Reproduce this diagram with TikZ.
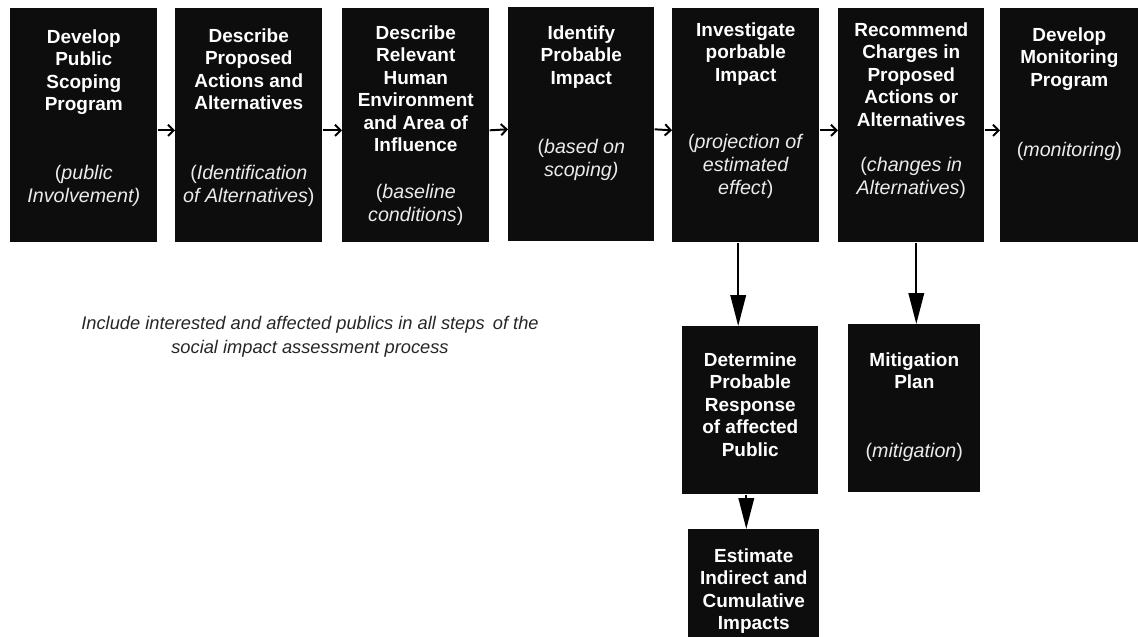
\documentclass[tikz,border=0pt]{standalone}
\usepackage{fontspec}
\setmainfont{Liberation Sans}
\usepackage{tikz}
\usetikzlibrary{positioning,calc,arrows.meta}

\begin{document}
\begin{tikzpicture}[x=0.025cm,y=-0.025cm,
	stepbox/.style={fill=black!95, inner sep=0pt, anchor=north west, minimum width=3.675cm, minimum height=5.85cm},
	boxtitle/.style={text=white, font=\bfseries\fontsize{13.5}{16}\selectfont, align=center, anchor=north, inner sep=0pt},
	boxnote/.style={text=white!92!black, font=\fontsize{14}{16.4}\selectfont, align=center, anchor=north, inner sep=0pt},
	harrow/.style={line width=1.4pt, -{Straight Barb[length=4pt,width=8pt]}},
	varrow/.style={line width=1.4pt, -{Triangle[length=22pt,width=11pt]}}]
	\useasboundingbox (0,0) rectangle (1138,637);
	
	% hàng các bước chính
	\foreach \n/\x in {b1/10,b2/175,b3/342,b5/672}
		\node[stepbox] (\n) at (\x,8) {};
	\node[stepbox, minimum width=3.65cm] (b4) at (508,7) {};
	\node[stepbox, minimum width=3.65cm] (b6) at (838,8) {};
	\node[stepbox, minimum width=3.45cm] (b7) at (1000,8) {};
	
	% các bước phía dưới
	\node[stepbox, minimum width=3.4cm, minimum height=4.2cm] (resp) at (682,326) {};
	\node[stepbox, minimum width=3.3cm, minimum height=4.2cm] (mitig) at (848,324) {};
	\node[stepbox, minimum width=3.275cm, minimum height=2.7cm] (est) at (688,529) {};
	
	% tiêu đề
	\node[boxtitle] (t1) at (b1.north |- 0,29) {Develop\\Public\\Scoping\\Program};
	\node[boxtitle] (t2) at (b2.north |- 0,28) {Describe\\Proposed\\Actions and\\Alternatives};
	\node[boxtitle] (t3) at (b3.north |- 0,25) {Describe\\Relevant\\Human\\Environment\\and Area of\\Influence};
	\node[boxtitle] (t4) at (b4.north |- 0,25) {Identify\\Probable\\Impact};
	\node[boxtitle] (t5) at (b5.north |- 0,22) {Investigate\\porbable\\Impact};
	\node[boxtitle] (t6) at (b6.north |- 0,22) {Recommend\\Charges in\\Proposed\\Actions or\\Alternatives};
	\node[boxtitle] (t7) at (b7.north |- 0,27) {Develop\\Monitoring\\Program};
	\node[boxtitle] (t8) at (resp.north |- 0,352) {Determine\\Probable\\Response\\of affected\\Public};
	\node[boxtitle] (t9) at (mitig.north |- 0,352) {Mitigation\\Plan};
	\node[boxtitle] (t10) at (est.north |- 0,548) {Estimate\\Indirect and\\Cumulative\\Impacts};
	
	% chú thích trong ngoặc
	\node[boxnote] (s1) at (b1.north |- 0,165) {(\textit{public}\\\textit{Involvement)}};
	\node[boxnote] (s2) at (b2.north |- 0,165) {(\textit{Identification}\\\textit{of Alternatives})};
	\node[boxnote] (s3) at (b3.north |- 0,184) {(\textit{baseline}\\\textit{conditions})};
	\node[boxnote] (s4) at (b4.north |- 0,139) {(\textit{based on}\\\textit{scoping)}};
	\node[boxnote] (s5) at (b5.north |- 0,134) {(\textit{projection of}\\\textit{estimated}\\\textit{effect})};
	\node[boxnote] (s6) at (b6.north |- 0,157) {(\textit{changes in}\\\textit{Alternatives})};
	\node[boxnote] (s7) at (b7.north |- 0,142) {(\textit{monitoring})};
	\node[boxnote] (s9) at (mitig.north |- 0,443) {(\textit{mitigation})};
	
	% ghi chú chung
	\node[font=\itshape\fontsize{13}{17}\selectfont, text=black!85, align=center] (inc) at (310,337)
		{Include interested and affected publics in all steps\, of the\\social impact assessment process};
	
	% mũi tên ngang
	\foreach \a/\b in {b1/b2,b2/b3,b3/b4,b4/b5,b5/b6,b6/b7}
		\draw[harrow] ([yshift=-0.125cm]\a.east) -- ([yshift=-0.125cm]\b.west);
	
	% mũi tên xuống
	\draw[varrow] ([xshift=-0.19cm]b5.south) -- ([xshift=-0.19cm]b5.south |- resp.north);
	\draw[varrow] ([xshift=0.125cm]b6.south) -- ([xshift=0.125cm]b6.south |- mitig.north);
	\draw[varrow] ([xshift=-0.1cm]resp.south) -- ([xshift=-0.1cm]resp.south |- est.north);
\end{tikzpicture}
\end{document}
